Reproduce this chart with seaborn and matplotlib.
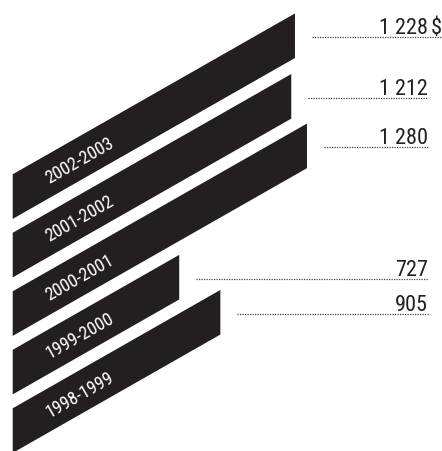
import numpy as np
import pandas as pd
import matplotlib
matplotlib.use("Agg")
import matplotlib.pyplot as plt
import matplotlib.transforms as mtransforms
from matplotlib import font_manager
import seaborn as sns

# data
years = ["2002-2003", "2001-2002", "2000-2001", "1999-2000", "1998-1999"]
amounts = [1228, 1212, 1280, 727, 905]
amount_labels = ["1 228", "1 212", "1 280", "727", "905"]
unit = "$"

df = pd.DataFrame({"year": years, "amount": amounts})

sns.set_theme(style="white")

# look for a narrow face, the original uses a condensed sans
names = {f.name for f in font_manager.fontManager.ttflist}
narrow, stretch = "DejaVu Sans", "condensed"
for cand in ["Roboto Condensed", "Liberation Sans Narrow", "Open Sans Condensed", "Noto Sans Condensed"]:
    if cand in names:
        narrow, stretch = cand, "normal"
        break

dark = "#231f20"
W, H = 442, 451
fig = plt.figure(figsize=(W / 100, H / 100), dpi=100)
ax = fig.add_axes([0, 0, 1, 1])

sns.barplot(data=df, y="year", x="amount", orient="h", color=dark,
            saturation=1, width=0.79, ax=ax)

px_per_unit = 0.231   # pixels per dollar
x0 = 12               # left edge of bars, px
step = 58.5           # px between bars
first = 197           # centre of the top bar at its left edge, px from top
ax.set_xlim(-x0 / px_per_unit, (W - x0) / px_per_unit)
ax.set_ylim((H - first) / step, -first / step)
ax.axis("off")

# shear everything upward to the right
k = 0.57
angle = np.degrees(np.arctan(k))
shear = mtransforms.Affine2D().translate(-x0, 0).skew(0, np.arctan(k)).translate(x0, 0)
trans = ax.transData + shear
for p in ax.patches:
    p.set_transform(trans)

# year labels inside the bars
for i, yr in enumerate(years):
    ax.text(290, i, yr, transform=trans, rotation=angle, rotation_mode="anchor",
            ha="center", va="center_baseline", color="white", fontsize=13,
            family=narrow, fontstretch=stretch)

# value labels with dotted leaders
ident = mtransforms.IdentityTransform()
right = 428
for i, (v, lab) in enumerate(zip(amounts, amount_labels)):
    xd, yd = trans.transform((v, i))
    yl = yd - 2
    end = right + 14 if i == 0 else right
    ax.plot([xd + 16, end], [yl, yl], transform=ident, color="#444444",
            lw=0.9, ls=(0, (1, 1)))
    ax.text(right, yl + 3, lab, transform=ident, ha="right", va="baseline",
            fontsize=16, color=dark, family=narrow, fontstretch=stretch)
    if i == 0:
        ax.text(right + 3, yl + 3, unit, transform=ident, ha="left", va="baseline",
                fontsize=16, color=dark, family=narrow, fontstretch=stretch)

fig.savefig("out.png", dpi=100, facecolor="white")
